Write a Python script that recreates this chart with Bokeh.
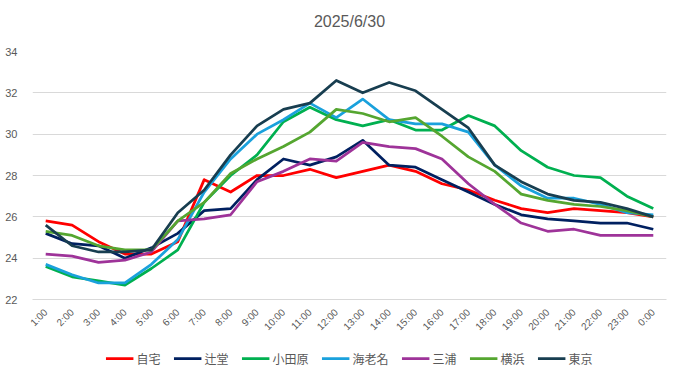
import math
from bokeh.plotting import figure
from bokeh.layouts import column
from bokeh.models import Legend, LegendItem, FactorRange, Range1d, FixedTicker, Title
from bokeh.embed import file_html
from bokeh.resources import INLINE

hours = ["1:00", "2:00", "3:00", "4:00", "5:00", "6:00", "7:00", "8:00", "9:00", "10:00",
         "11:00", "12:00", "13:00", "14:00", "15:00", "16:00", "17:00", "18:00", "19:00",
         "20:00", "21:00", "22:00", "23:00", "0:00"]

jitaku = [25.8, 25.6, 24.8, 24.2, 24.2, 24.8, 27.8, 27.2, 28.0, 28.0, 28.3, 27.9,
          28.2, 28.5, 28.2, 27.6, 27.3, 26.8, 26.4, 26.2, 26.4, 26.3, 26.2, 26.0]
tsujido = [25.2, 24.7, 24.6, 24.0, 24.5, 25.2, 26.3, 26.4, 27.8, 28.8, 28.5, 28.9,
           29.7, 28.5, 28.4, 27.8, 27.2, 26.6, 26.1, 25.9, 25.8, 25.7, 25.7, 25.4]
odawara = [23.6, 23.1, 22.9, 22.7, 23.5, 24.4, 26.7, 28.0, 29.0, 30.6, 31.3, 30.7,
           30.4, 30.7, 30.2, 30.2, 30.9, 30.4, 29.2, 28.4, 28.0, 27.9, 27.0, 26.4]
ebina = [23.7, 23.2, 22.8, 22.8, 23.7, 24.9, 27.2, 28.8, 30.0, 30.7, 31.5, 30.8,
         31.7, 30.7, 30.5, 30.5, 30.1, 28.5, 27.5, 26.9, 26.9, 26.6, 26.2, 26.1]
miura = [24.2, 24.1, 23.8, 23.9, 24.3, 25.8, 25.9, 26.1, 27.7, 28.2, 28.8, 28.7,
         29.6, 29.4, 29.3, 28.8, 27.6, 26.6, 25.7, 25.3, 25.4, 25.1, 25.1, 25.1]
yokohama = [25.3, 25.1, 24.6, 24.4, 24.4, 25.8, 26.7, 28.1, 28.8, 29.4, 30.1, 31.2,
            31.0, 30.6, 30.8, 29.9, 28.9, 28.2, 27.1, 26.8, 26.6, 26.5, 26.3, 26.0]
tokyo = [25.6, 24.6, 24.3, 24.3, 24.4, 26.2, 27.3, 29.0, 30.4, 31.2, 31.5, 32.6,
         32.0, 32.5, 32.1, 31.2, 30.3, 28.5, 27.7, 27.1, 26.8, 26.7, 26.4, 26.0]

series_names = ["自宅", "辻堂", "小田原", "海老名", "三浦", "横浜", "東京"]
series_values = [jitaku, tsujido, odawara, ebina, miura, yokohama, tokyo]
colors = ["#FF0000", "#002060", "#00B050", "#1AA1DC", "#9E3399", "#55A630", "#183E50"]

y_ticks = [22, 24, 26, 28, 30, 32, 34]

FONT = "Liberation Sans, Noto Sans CJK JP"
GREY = "#595959"

p = figure(width=681, height=338, x_range=FactorRange(*hours, range_padding=0),
           y_range=Range1d(22, 34), output_backend="svg", toolbar_location=None,
           min_border_left=32, min_border_right=15, min_border_top=49, min_border_bottom=38)
p.outline_line_color = None
p.background_fill_color = "white"
p.border_fill_color = "white"

p.title = Title(text="2025/6/30", align="center", text_font_size="16px",
                text_font_style="normal", text_color=GREY, text_font=FONT, standoff=20)
# spacer title (added later, sits nearest the frame) pushes the real title upward
p.add_layout(Title(text=" ", text_font_size="9px", standoff=0), "above")

p.xgrid.grid_line_color = None
p.ygrid.grid_line_color = "#D9D9D9"
p.ygrid.grid_line_width = 1
p.yaxis.ticker = FixedTicker(ticks=y_ticks)
p.yaxis.axis_line_color = None
p.yaxis.major_tick_line_color = None
p.yaxis.minor_tick_line_color = None
p.yaxis.major_label_text_font_size = "11px"
p.yaxis.major_label_text_color = GREY
p.yaxis.major_label_text_font = FONT
p.yaxis.major_label_standoff = 9

p.xaxis.axis_line_color = "#D9D9D9"
p.xaxis.major_tick_line_color = None
p.xaxis.minor_tick_line_color = None
p.xaxis.major_label_orientation = math.pi / 4
p.xaxis.major_label_text_font_size = "10px"
p.xaxis.major_label_text_color = GREY
p.xaxis.major_label_text_font = FONT
p.xaxis.major_label_standoff = 5

for name, vals, c in zip(series_names, series_values, colors):
    p.line(hours, vals, line_color=c, line_width=2.75, line_join="round")

# legend strip below the chart (series drawn out of view, used only as legend carriers)
pl = figure(width=681, height=40, x_range=FactorRange(*hours, range_padding=0),
            y_range=Range1d(100, 101),
            output_backend="svg", toolbar_location=None,
            min_border_left=0, min_border_right=0, min_border_top=0, min_border_bottom=0)
pl.axis.visible = False
pl.grid.grid_line_color = None
pl.outline_line_color = None
pl.background_fill_color = "white"
pl.border_fill_color = "white"

items = []
for name, vals, c in zip(series_names, series_values, colors):
    r = pl.line(hours, vals, line_color=c, line_width=2.75)
    items.append(LegendItem(label=name, renderers=[r]))

legend = Legend(items=items, orientation="horizontal", location="center",
                glyph_width=28, glyph_height=18, label_standoff=3, spacing=13,
                label_text_font_size="12px", label_text_color=GREY, label_text_font=FONT,
                border_line_color=None, background_fill_alpha=0, padding=0, margin=0)
pl.add_layout(legend, "center")

layout = column(p, pl, spacing=0)
open("out.html", "w").write(file_html(layout, INLINE))
